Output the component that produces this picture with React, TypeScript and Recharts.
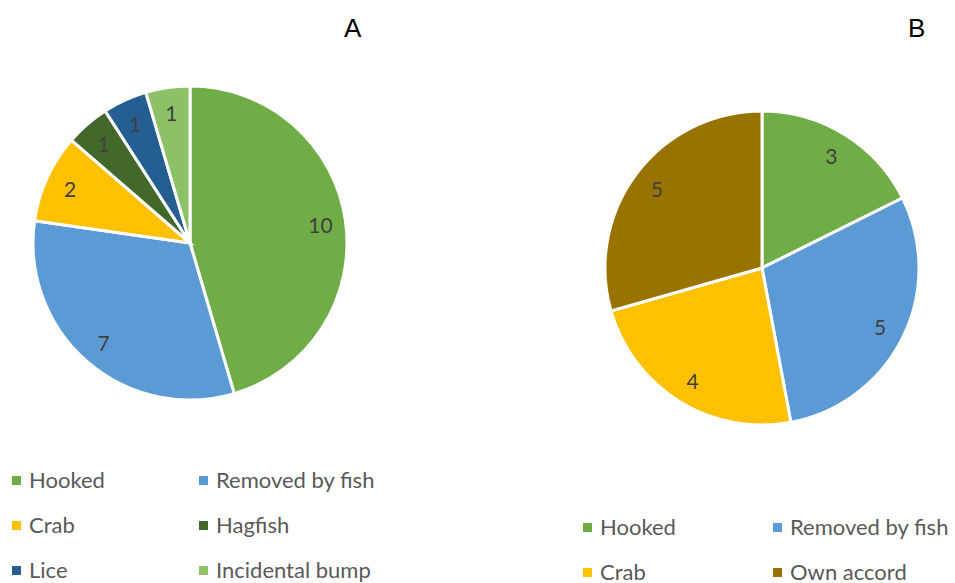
import { Pie, PieChart, Cell } from 'recharts';

const causesA = ['Hooked', 'Removed by fish', 'Crab', 'Hagfish', 'Lice', 'Incidental bump'];
const countsA = [10, 7, 2, 1, 1, 1];

const causesB = ['Hooked', 'Removed by fish', 'Crab', 'Own accord'];
const countsB = [3, 5, 4, 5];

const COLORS: Record<string, string> = {
  Hooked: '#70AD47',
  'Removed by fish': '#5B9BD5',
  Crab: '#FFC000',
  Hagfish: '#43682B',
  Lice: '#255E91',
  'Incidental bump': '#8CC168',
  'Own accord': '#997300',
};

const RADIAN = Math.PI / 180;
const FONT = 'Lato, "Open Sans", sans-serif';

const renderLabel = (props: any) => {
  const { cx, cy, midAngle, outerRadius, value } = props;
  const r = outerRadius * 0.84;
  const x = cx + r * Math.cos(-midAngle * RADIAN);
  const y = cy + r * Math.sin(-midAngle * RADIAN);
  return (
    <text
      x={x}
      y={y}
      fill="#404040"
      textAnchor="middle"
      dominantBaseline="central"
      fontSize={21}
      fontFamily={FONT}
    >
      {value}
    </text>
  );
};

function LegendBlock({
  names,
  left,
  top,
  colGap,
  rowGap,
}: {
  names: string[];
  left: number;
  top: number;
  colGap: number;
  rowGap: number;
}) {
  return (
    <>
      {names.map((name, i) => (
        <div
          key={name}
          style={{
            position: 'absolute',
            left: left + (i % 2) * colGap,
            top: top + Math.floor(i / 2) * rowGap,
            display: 'flex',
            alignItems: 'center',
            fontFamily: FONT,
            fontSize: 22,
            color: '#595959',
            whiteSpace: 'nowrap',
            lineHeight: '18px',
          }}
        >
          <span
            style={{
              display: 'inline-block',
              width: 9,
              height: 9,
              background: COLORS[name],
              marginRight: 8,
            }}
          />
          {name}
        </div>
      ))}
    </>
  );
}

export default function App() {
  const dataA = causesA.map((name, i) => ({ name, value: countsA[i] }));
  const dataB = causesB.map((name, i) => ({ name, value: countsB[i] }));

  return (
    <div
      style={{
        position: 'absolute',
        left: 0,
        top: 0,
        width: 955,
        height: 583,
        background: '#fff',
        overflow: 'hidden',
      }}
    >
      <PieChart width={955} height={583} margin={{ top: 0, right: 0, bottom: 0, left: 0 }}>
        <Pie
          data={dataA}
          dataKey="value"
          nameKey="name"
          cx={190}
          cy={243}
          outerRadius={157}
          startAngle={90}
          endAngle={-270}
          stroke="#fff"
          strokeWidth={3}
          label={renderLabel}
          labelLine={false}
          isAnimationActive={false}
        >
          {dataA.map((d) => (
            <Cell key={d.name} fill={COLORS[d.name]} />
          ))}
        </Pie>
        <Pie
          data={dataB}
          dataKey="value"
          nameKey="name"
          cx={762}
          cy={268}
          outerRadius={157}
          startAngle={90}
          endAngle={-270}
          stroke="#fff"
          strokeWidth={3}
          label={renderLabel}
          labelLine={false}
          isAnimationActive={false}
        >
          {dataB.map((d) => (
            <Cell key={d.name} fill={COLORS[d.name]} />
          ))}
        </Pie>
      </PieChart>
      <div
        style={{
          position: 'absolute',
          left: 344,
          top: 13,
          fontFamily: '"Liberation Sans", Arial, sans-serif',
          fontSize: 26,
          color: '#000',
        }}
      >
        A
      </div>
      <div
        style={{
          position: 'absolute',
          left: 908,
          top: 13,
          fontFamily: '"Liberation Sans", Arial, sans-serif',
          fontSize: 26,
          color: '#000',
        }}
      >
        B
      </div>
      <LegendBlock names={causesA} left={12} top={471} colGap={187} rowGap={45} />
      <LegendBlock names={causesB} left={583} top={518} colGap={190} rowGap={45} />
    </div>
  );
}
